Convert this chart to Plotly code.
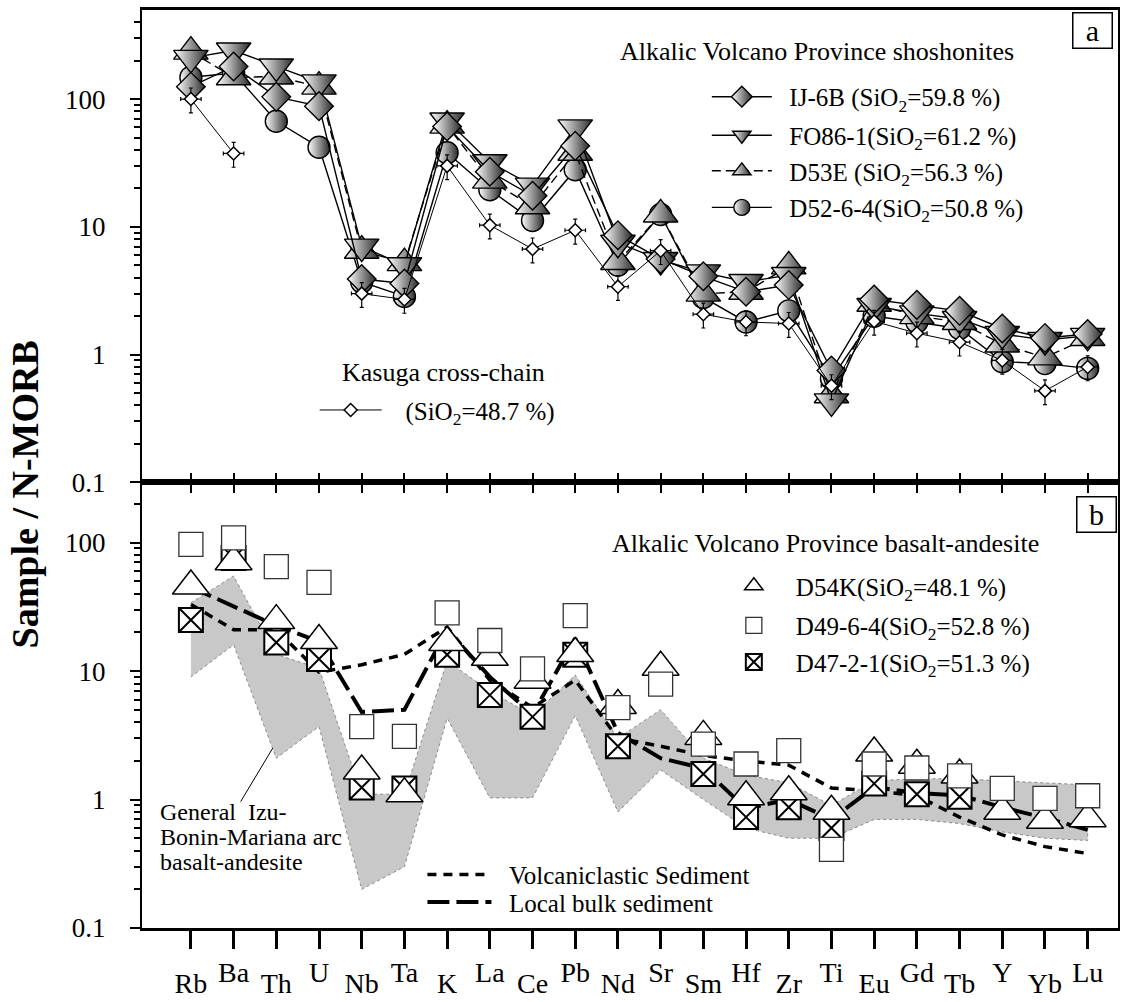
import plotly.graph_objects as go

# ---------------- data ----------------
elements = ["Rb", "Ba", "Th", "U", "Nb", "Ta", "K", "La", "Ce", "Pb", "Nd",
            "Sr", "Sm", "Hf", "Zr", "Ti", "Eu", "Gd", "Tb", "Y", "Yb", "Lu"]

# (a) Alkalic Volcano Province shoshonites
ij6b = [125, 180, 104, 88, 3.9, 3.6, 61, 27, 17.5, 43, 8.6, 5.6, 4.1, 3.1, 3.5,
        0.75, 2.7, 2.45, 2.2, 1.6, 1.35, 1.45]
fo86_1 = [210, 240, 180, 135, 7.0, 5.0, 68, 32, 21, 60, 7.5, 5.5, 4.4, 3.7, 4.2,
          0.43, 2.4, 2.1, 1.9, 1.45, 1.3, 1.4]
d53e = [235, 148, 150, 125, 6.5, 5.2, 62, 23, 14.5, 38, 5.3, 12.5, 3.0, 3.1, 4.9,
        0.48, 2.5, 2.0, 1.8, 1.2, 0.95, 1.35]
d52_6_4 = [148, 160, 67, 42, 3.7, 2.85, 38, 19.5, 11.2, 28, 5.0, 12.5, 2.8, 1.8, 2.2,
           0.65, 2.0, 1.8, 1.6, 0.88, 0.85, 0.78]
kasuga = [100, 37.5, None, None, 3.0, 2.7, 30, 10.3, 6.7, 9.4, 3.4, 6.5, 2.07, 1.8,
          1.75, 0.57, 1.82, 1.47, 1.25, 0.9, 0.52, 0.8]

# (b) Alkalic Volcano Province basalt-andesite
d54k = [46, 71, 24.7, 17.3, 1.67, 1.11, 16.7, 12.8, 8.5, 13.7, 5.4, 10.7, 3.1, 1.05,
        1.15, 0.81, 2.3, 1.85, 1.55, 0.81, 0.69, 0.71]
d49_6_4 = [97, 109, 65, 49, 3.7, 3.1, 28.4, 17.3, 10.4, 27, 5.2, 7.9, 2.7, 1.89,
           2.4, 0.41, 1.89, 1.76, 1.53, 1.22, 1.02, 1.07]
d47_2_1 = [25, 76, 16.7, 12.4, 1.24, 1.22, 13.4, 6.5, 4.4, 13.4, 2.6, None, 1.58,
           0.73, 0.87, 0.6, 1.33, 1.1, 1.05, None, None, None]

# sediments
volcaniclastic = [33, 21, 21, 9.8, 11.2, 13.5, 22, 8.5, 5.2, 8.5, 3.0, 2.6, 2.2, 2.0,
                  1.85, 1.23, 1.17, 1.07, 0.73, 0.53, 0.43, 0.38]
local_bulk = [45, 32, 22.6, 17, 4.8, 5.0, 21, 9.0, 4.6, 18, 3.3, 2.1, 1.75, 0.85,
              1.0, 0.7, 1.25, 1.12, 1.08, 0.87, 0.72, 0.58]

# General Izu-Bonin-Mariana arc basalt-andesite field
iba_upper = [34, 55, 13.5, 10.5, 1.1, 1.1, 12, 7, 4.5, 9.3, 3.0, 5.0, 2.1, 1.55,
             1.35, 0.9, 1.4, 1.45, 1.45, 1.4, 1.35, 1.3]
iba_lower = [9, 16, 2.1, 3.7, 0.2, 0.3, 4.3, 1.03, 1.03, 4.5, 0.8, 1.7, 1.0, 0.6,
             0.5, 0.5, 0.7, 0.7, 0.65, 0.56, 0.5, 0.48]

y_ticks = [0.1, 1, 10, 100]
y_ticktext = ["0.1", "1", "10", "100"]

# ---------------- layout helpers ----------------
W, H = 1123, 1002
ML, MR, MT, MB = 142, 3, 10, 63
PW, PH = W - ML - MR, H - MT - MB


def px(x):
    return (x - ML) / PW


def py(y):
    return (H - MB - y) / PH


SERIF = "Liberation Serif, Times New Roman, Times, serif"
xi = list(range(len(elements)))
xr = [-1.145, 21.71]
yr_a = [-1, 2.697]
yr_b = [-1, 2.469]
split = py(488)

fig = go.Figure()

# ---- panel (a) ----
half = dict(type="horizontal", color="#2a2a2a")
series_a = [
    ("D52-6-4(SiO<sub>2</sub>=50.8 %)", d52_6_4, "circle", 22, "solid", "legend4"),
    ("D53E (SiO<sub>2</sub>=56.3 %)", d53e, "triangle-up", 30, "9px,5px", "legend3"),
    ("FO86-1(SiO<sub>2</sub>=61.2 %)", fo86_1, "triangle-down", 30, "solid", "legend2"),
    ("IJ-6B (SiO<sub>2</sub>=59.8 %)", ij6b, "diamond", 22, "solid", "legend"),
]
for name, vals, sym, size, dash, leg in series_a:
    fig.add_trace(go.Scatter(
        x=xi, y=vals, name="\u00a0\u00a0" + name, mode="lines+markers",
        line=dict(color="black", width=1.4, dash=dash),
        marker=dict(symbol=sym, size=size, color="white", gradient=half,
                    line=dict(color="black", width=1.4)),
        xaxis="x", yaxis="y", legend=leg))

fig.add_trace(go.Scatter(
    x=xi, y=kasuga, name="\u00a0\u00a0\u00a0(SiO<sub>2</sub>=48.7 %)",
    mode="lines+markers", line=dict(color="black", width=1),
    marker=dict(symbol="diamond", size=10, color="white",
                line=dict(color="black", width=1.5)),
    error_y=dict(type="percent", value=22, thickness=1.2, width=2, color="black"),
    error_x=dict(type="constant", value=0.24, thickness=1.2, width=2, color="black"),
    xaxis="x", yaxis="y", legend="legend5"))

# ---- panel (b) ----
fig.add_trace(go.Scatter(
    x=xi + xi[::-1], y=iba_upper + iba_lower[::-1], mode="lines", fill="toself",
    fillcolor="#c8c8c8", line=dict(color="#8a8a8a", width=1, dash="dot"),
    showlegend=False, hoverinfo="skip", xaxis="x2", yaxis="y2"))

fig.add_trace(go.Scatter(
    x=xi, y=volcaniclastic, name="\u00a0\u00a0Volcaniclastic Sediment", mode="lines",
    line=dict(color="black", width=3.5, dash="9px,7px"),
    xaxis="x2", yaxis="y2", legend="legend9"))
fig.add_trace(go.Scatter(
    x=xi, y=local_bulk, name="\u00a0\u00a0Local bulk sediment", mode="lines",
    line=dict(color="black", width=4, dash="22px,7px"),
    xaxis="x2", yaxis="y2", legend="legend10"))

fig.add_trace(go.Scatter(
    x=xi, y=d47_2_1, name="D47-2-1(SiO<sub>2</sub>=51.3 %)", mode="markers",
    marker=dict(symbol="square-x", size=24, color="white",
                line=dict(color="black", width=2)),
    xaxis="x2", yaxis="y2", legend="legend8"))
fig.add_trace(go.Scatter(
    x=xi, y=d54k, name="D54K(SiO<sub>2</sub>=48.1 %)", mode="markers",
    marker=dict(symbol="triangle-up", size=32, color="white",
                line=dict(color="black", width=1.5)),
    xaxis="x2", yaxis="y2", legend="legend6"))
fig.add_trace(go.Scatter(
    x=xi, y=d49_6_4, name="D49-6-4(SiO<sub>2</sub>=52.8 %)", mode="markers",
    marker=dict(symbol="square", size=24, color="white",
                line=dict(color="#333333", width=1.3)),
    xaxis="x2", yaxis="y2", legend="legend7"))

# empty traces so the overlay axes are drawn
for xa, ya in (("x3", "y2"), ("x4", "y2"), ("x", "y3"), ("x2", "y4")):
    fig.add_trace(go.Scatter(x=[None], y=[None], xaxis=xa, yaxis=ya,
                             showlegend=False, hoverinfo="skip"))

# ---------------- axes ----------------
minor_vals = [m * 10 ** e for e in (-1, 0, 1, 2) for m in range(2, 10)]
# y axes carrying the visible ticks (no labels)
yax = dict(type="log", tickvals=y_ticks, showticklabels=False, ticks="outside",
           ticklen=10, tickwidth=2, tickcolor="black", showgrid=False,
           showline=True, linewidth=2, linecolor="black", mirror=True,
           zeroline=False,
           minor=dict(tickvals=minor_vals, ticks="outside", ticklen=6,
                      tickwidth=1.5, tickcolor="black", showgrid=False))
# overlay y axes carrying the labels, set farther from the frame
ylab = dict(type="log", tickvals=y_ticks, ticktext=y_ticktext, ticks="outside",
            ticklen=30, tickcolor="rgba(0,0,0,0)", showgrid=False,
            showline=False, zeroline=False, side="left",
            tickfont=dict(family=SERIF, size=27, color="black"))
xbase = dict(range=xr, tickvals=xi, showgrid=False, zeroline=False)

odd_text = [e if i % 2 else "" for i, e in enumerate(elements)]
even_text = [e for i, e in enumerate(elements) if i % 2 == 0]

fig.update_layout(
    width=W, height=H, margin=dict(l=ML, r=MR, t=MT, b=MB),
    paper_bgcolor="white", plot_bgcolor="white",
    font=dict(family=SERIF, color="black"),
    xaxis=dict(**xbase, domain=[0, 1], anchor="y", showticklabels=False,
               ticks="outside", ticklen=8, tickwidth=1.5, tickcolor="black",
               showline=True, linewidth=2.5, linecolor="black", mirror=True),
    yaxis=dict(**yax, domain=[split, 1], range=yr_a, anchor="x"),
    yaxis3=dict(**ylab, range=yr_a, overlaying="y", anchor="x"),
    xaxis2=dict(**xbase, domain=[0, 1], anchor="y2", ticktext=odd_text,
                ticks="outside", ticklen=18, tickwidth=3, tickcolor="black",
                showline=True, linewidth=2.5, linecolor="black", mirror=True,
                tickfont=dict(family=SERIF, size=28, color="black")),
    yaxis2=dict(**yax, domain=[0, split], range=yr_b, anchor="x2"),
    yaxis4=dict(**ylab, range=yr_b, overlaying="y2", anchor="x2"),
    xaxis3=dict(**xbase, overlaying="x2", anchor="y2", side="top",
                showticklabels=False, ticks="outside", ticklen=8, tickwidth=1.5,
                tickcolor="black", showline=False),
    xaxis4=dict(range=xr, tickvals=xi[::2], ticktext=even_text, showgrid=False,
                zeroline=False, overlaying="x2", anchor="y2", side="bottom",
                ticks="", showline=False, ticklabelstandoff=36,
                tickfont=dict(family=SERIF, size=28, color="black")),
    showlegend=True,
)

# ---------------- legends ----------------
def leg(x0, yc, width):
    return dict(x=px(x0), y=py(yc), xanchor="left", yanchor="middle",
                bgcolor="rgba(0,0,0,0)", borderwidth=0, itemwidth=width,
                font=dict(family=SERIF, size=25, color="black"),
                itemclick=False, itemdoubleclick=False)


fig.update_layout(
    legend=leg(708, 98, 60),
    legend2=leg(708, 137, 60),
    legend3=leg(708, 173, 60),
    legend4=leg(708, 210, 60),
    legend5=leg(315, 415, 62),
    legend6=leg(713, 593, 74),
    legend7=leg(713, 633, 74),
    legend8=leg(713, 670, 74),
    legend9=leg(423, 885, 64),
    legend10=leg(423, 913, 64),
)

# ---------------- annotations ----------------
def txt(text, x, y, size=26, xanchor="left", **kw):
    return dict(text=text, x=px(x), y=py(y), xref="paper", yref="paper",
                xanchor=xanchor, yanchor="middle", showarrow=False,
                font=dict(family=SERIF, size=size, color="black"), **kw)


annotations = [
    txt("Alkalic Volcano Province shoshonites", 818, 52, xanchor="center"),
    txt("Kasuga cross-chain", 340, 377),
    txt("Alkalic Volcano Province basalt-andesite", 827, 550, xanchor="center"),
    txt("General  Izu-", 158, 822, size=24),
    txt("Bonin-Mariana arc", 158, 847, size=24),
    txt("basalt-andesite", 158, 872, size=24),
    txt("a", 1094, 31, size=30, xanchor="center", bordercolor="black",
        borderwidth=1.5, width=38, height=34, borderpad=0),
    txt("b", 1098, 521, size=30, xanchor="center", bordercolor="black",
        borderwidth=1.5, width=38, height=34, borderpad=0),
    dict(text="", x=px(273), y=py(757), xref="paper", yref="paper",
         showarrow=True, arrowhead=0, arrowwidth=1, arrowcolor="black",
         ax=-33, ay=55),
    dict(text="<b>Sample / N-MORB</b>", x=px(25), y=py(500), xref="paper",
         yref="paper", textangle=-90, showarrow=False, xanchor="center",
         yanchor="middle", font=dict(family=SERIF, size=38, color="black")),
]
fig.update_layout(annotations=annotations)

fig.write_html("out.html")
